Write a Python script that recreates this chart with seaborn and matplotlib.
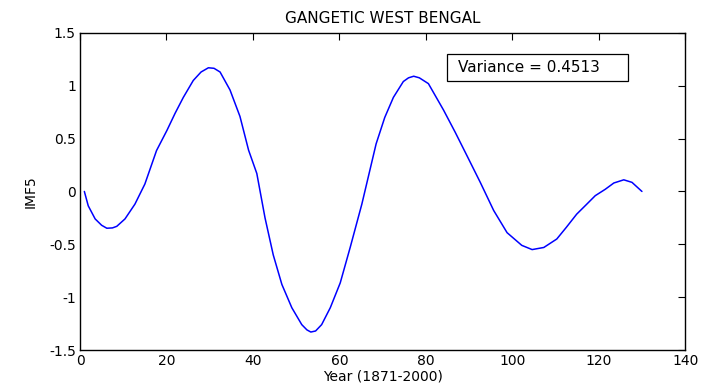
import matplotlib
matplotlib.use("Agg")
import matplotlib.pyplot as plt
from matplotlib.patches import Rectangle
import seaborn as sns
import pandas as pd

# values (year index, IMF5)
anos = [1, 1.9, 3.5, 5, 6.2, 7.5, 8.5, 10.4, 12.7, 15.0, 17.7, 20.1, 22, 23.9, 26.2, 28,
        29.7, 31, 32.4, 34.7, 37.0, 39.0, 40.9, 42.8, 44.7, 46.7, 49.0, 51.3, 52.5,
        53.4, 54.5, 55.9, 57.9, 60.2, 62.5, 65.2, 68.5, 70.5, 72.5, 74.8, 76, 77.2,
        78.5, 80.6, 84.1, 86.8, 89.5, 92.6, 95.7, 98.8, 102.2, 104.6, 107.3, 110.3,
        112.5, 114.9, 117, 119.2, 121.5, 123.5, 125.8, 127.7, 130]
imf5 = [0.0, -0.136, -0.26, -0.32, -0.348, -0.345, -0.33, -0.26, -0.12, 0.07, 0.387,
        0.577, 0.74, 0.89, 1.05, 1.13, 1.17, 1.165, 1.13, 0.96, 0.71, 0.39, 0.17, -0.25,
        -0.6, -0.88, -1.10, -1.26, -1.31, -1.33, -1.32, -1.26, -1.10, -0.865, -0.53,
        -0.12, 0.45, 0.70, 0.89, 1.04, 1.075, 1.09, 1.075, 1.02, 0.77, 0.56, 0.34,
        0.086, -0.18, -0.39, -0.51, -0.55, -0.53, -0.45, -0.34, -0.215, -0.13, -0.04,
        0.02, 0.08, 0.11, 0.086, 0.0]

titulo = 'GANGETIC WEST BENGAL'
variancia = 'Variance = 0.4513'

df = pd.DataFrame({'ano': anos, 'imf5': imf5})

sns.set_style('white')
plt.rcParams['font.family'] = ['DejaVu Sans']
plt.rcParams['xtick.direction'] = 'in'
plt.rcParams['ytick.direction'] = 'in'
plt.rcParams['text.color'] = 'black'
plt.rcParams['axes.labelcolor'] = 'black'
plt.rcParams['xtick.color'] = 'black'
plt.rcParams['ytick.color'] = 'black'

fig = plt.figure(figsize=(7.02, 3.87), dpi=100)
ax = fig.add_axes([0.114, 0.0956, 0.862, 0.8194])
sns.lineplot(x='ano', y='imf5', data=df, ax=ax, color='#0000ff', linewidth=1.1,
             sort=False, estimator=None)

ax.set_xlim(0, 140)
ax.set_ylim(-1.5, 1.5)
ax.set_xticks(range(0, 141, 20))
ax.set_yticks([-1.5, -1, -0.5, 0, 0.5, 1, 1.5])
ax.set_yticklabels(['-1.5', '-1', '-0.5', '0', '0.5', '1', '1.5'])
ax.tick_params(axis='both', labelsize=10, length=5, width=0.8, color='black',
               labelcolor='black', top=True, right=True, pad=3)
for s in ax.spines.values():
    s.set_visible(True)
    s.set_color('black')
    s.set_linewidth(1.0)

ax.set_title(titulo, fontsize=11, pad=7, color='black')
ax.set_xlabel('Year (1871-2000)', fontsize=10, labelpad=1)
ax.set_ylabel('IMF5', fontsize=10, labelpad=8)

# caixa da variancia
ax.add_patch(Rectangle((0.607, 0.849), 0.299, 0.085, transform=ax.transAxes,
                       facecolor='white', edgecolor='black', linewidth=0.9, zorder=5))
ax.text(0.625, 0.891, variancia, transform=ax.transAxes, fontsize=11,
        ha='left', va='center', zorder=6)

plt.savefig('out.png', dpi=100)
